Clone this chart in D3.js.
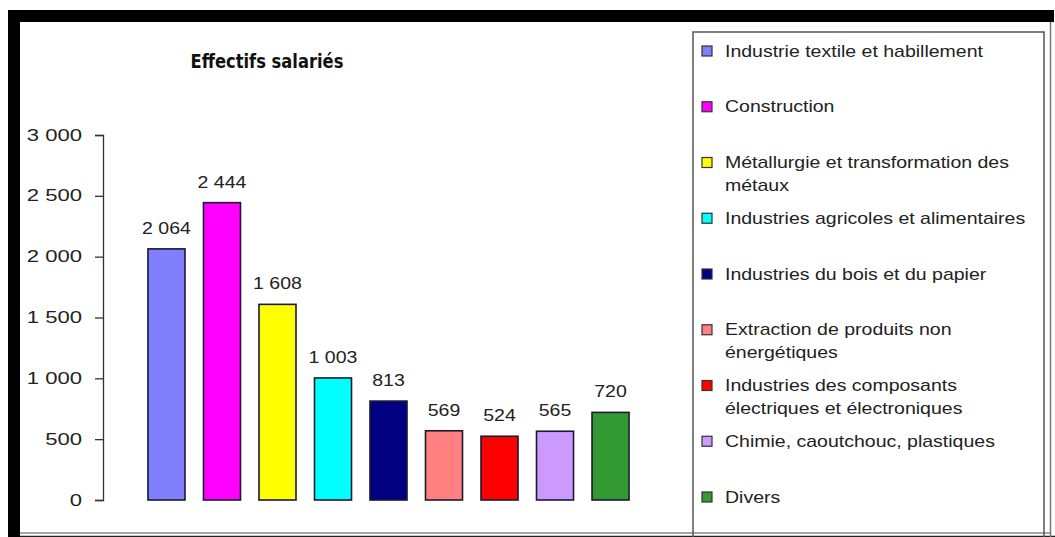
<!DOCTYPE html>
<html>
<head>
<meta charset="utf-8">
<script src="https://cdn.jsdelivr.net/npm/d3@7"></script>
<style>
  html, body { margin: 0; padding: 0; background: #fff; }
  svg { display: block; }
  text { font-family: "Liberation Sans", Arial, sans-serif; fill: #222; }
</style>
</head>
<body>
<div id="chart"></div>
<script>
const categories = [
  'Industrie textile et habillement',
  'Construction',
  'Métallurgie et transformation des métaux',
  'Industries agricoles et alimentaires',
  'Industries du bois et du papier',
  'Extraction de produits non énergétiques',
  'Industries des composants électriques et électroniques',
  'Chimie, caoutchouc, plastiques',
  'Divers'
];
const values = [2064, 2444, 1608, 1003, 813, 569, 524, 565, 720];
const colors = ['#8080ff', '#ff00ff', '#ffff00', '#00ffff', '#000080', '#ff8080', '#ff0000', '#cc99ff', '#339933'];
// legend text as it wraps in the picture
const legendLines = [
  ['Industrie textile et habillement'],
  ['Construction'],
  ['Métallurgie et transformation des', 'métaux'],
  ['Industries agricoles et alimentaires'],
  ['Industries du bois et du papier'],
  ['Extraction de produits non', 'énergétiques'],
  ['Industries des composants', 'électriques et électroniques'],
  ['Chimie, caoutchouc, plastiques'],
  ['Divers']
];
const yTicks = [0, 500, 1000, 1500, 2000, 2500, 3000];
const title = 'Effectifs salariés';

const width = 1055, height = 537;

const svg = d3.select('#chart')
  .append('svg')
  .attr('width', width)
  .attr('height', height);

// french number format, space as thousands separator
const fr = d3.formatLocale({ decimal: ',', thousands: ' ', grouping: [3], currency: ['', ' €'] });
const fmt = fr.format(',d');

// frame: thick black top/left edge, thin grey right/bottom
svg.append('rect').attr('x', 8).attr('y', 10).attr('width', 1046).attr('height', 12).attr('fill', '#000');
svg.append('rect').attr('x', 8).attr('y', 10).attr('width', 12).attr('height', 527).attr('fill', '#000');
svg.append('line').attr('x1', 20).attr('x2', 1051).attr('y1', 533).attr('y2', 533).attr('stroke', '#888').attr('stroke-width', 1.5);
svg.append('line').attr('x1', 20).attr('x2', 1055).attr('y1', 536.5).attr('y2', 536.5).attr('stroke', '#222').attr('stroke-width', 1.5);
svg.append('line').attr('x1', 1050.5).attr('x2', 1050.5).attr('y1', 22).attr('y2', 537).attr('stroke', '#777').attr('stroke-width', 1.5);

const x = d3.scaleBand()
  .domain(categories)
  .range([103, 674])
  .paddingInner(0.333)
  .paddingOuter(0.81);

const y = d3.scaleLinear()
  .domain([0, 3000])
  .range([500, 135]);

// title
svg.append('text')
  .attr('transform', 'translate(267,68) scale(0.86,1)')
  .attr('text-anchor', 'middle')
  .style('font-family', '"DejaVu Sans", sans-serif')
  .style('font-weight', 'bold')
  .style('font-size', '19px')
  .style('fill', '#111')
  .text(title);

// y axis
const tickSx = 1.38;
const yAxis = svg.append('g')
  .attr('transform', 'translate(103,0)')
  .call(d3.axisLeft(y).tickValues(yTicks).tickSize(8).tickFormat(fmt));
yAxis.select('.domain').attr('stroke', '#333').attr('stroke-width', 1.3);
yAxis.selectAll('.tick line').attr('stroke', '#333').attr('stroke-width', 1.3);
yAxis.selectAll('.tick text')
  .attr('x', -21 / tickSx)
  .attr('transform', `scale(${tickSx},1)`)
  .style('font-size', '16px')
  .style('font-family', '"Liberation Sans", Arial, sans-serif')
  .attr('fill', '#222');

// bars
svg.selectAll('rect.bar')
  .data(values)
  .join('rect')
  .attr('class', 'bar')
  .attr('x', (d, i) => x(categories[i]))
  .attr('y', d => y(d))
  .attr('width', x.bandwidth())
  .attr('height', d => y(0) - y(d))
  .attr('fill', (d, i) => colors[i])
  .attr('stroke', '#1a1a33')
  .attr('stroke-width', 1.6);

// value labels
const labelSx = 1.22;
svg.selectAll('text.val')
  .data(values)
  .join('text')
  .attr('class', 'val')
  .attr('transform', (d, i) => `translate(${x(categories[i]) + x.bandwidth() / 2},${y(d) - 15}) scale(${labelSx},1)`)
  .attr('text-anchor', 'middle')
  .style('font-size', '16px')
  .text(d => fmt(d));

// legend box
svg.append('rect')
  .attr('x', 693)
  .attr('y', 32)
  .attr('width', 351)
  .attr('height', 520)
  .attr('fill', 'none')
  .attr('stroke', '#555')
  .attr('stroke-width', 1.5);

const legendSx = 1.22;
const legend = svg.append('g').selectAll('g')
  .data(legendLines)
  .join('g')
  .attr('transform', (d, i) => `translate(0,${51 + i * 55.75})`);

legend.append('rect')
  .attr('x', 702)
  .attr('y', -5)
  .attr('width', 10)
  .attr('height', 10)
  .attr('fill', (d, i) => colors[i])
  .attr('stroke', '#333')
  .attr('stroke-width', 1.2);

legend.append('text')
  .attr('transform', `translate(725,0) scale(${legendSx},1)`)
  .style('font-size', '16px')
  .selectAll('tspan')
  .data(d => d)
  .join('tspan')
  .attr('x', 0)
  .attr('y', (d, j) => j * 23)
  .attr('dy', '0.35em')
  .text(d => d);
</script>
</body>
</html>
